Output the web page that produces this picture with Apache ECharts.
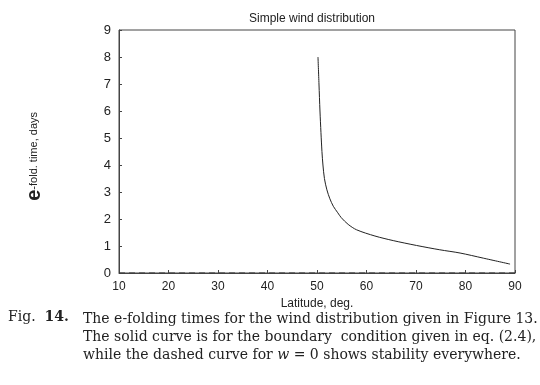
<!DOCTYPE html>
<html>
<head>
<meta charset="utf-8">
<script src="https://cdn.jsdelivr.net/npm/echarts@6/dist/echarts.min.js"></script>
<style>
  html, body { margin: 0; padding: 0; background: #fff; }
  #chart { width: 540px; height: 385px; }
</style>
</head>
<body>
<div id="chart"></div>
<script>
// solid curve: boundary condition eq. (2.4)
const latitude = [50.2, 50.4, 50.6, 50.8, 51.0, 51.2, 51.5, 52.0, 52.6, 53.3, 54.2, 54.9, 56.3, 58.0, 61.7, 65.4, 70.1, 74.8, 78.9, 83.6, 89.0];
const efoldTime = [8.0, 7.0, 6.0, 5.2, 4.5, 4.0, 3.5, 3.08, 2.75, 2.47, 2.23, 2.05, 1.8, 1.6, 1.37, 1.2, 1.02, 0.86, 0.74, 0.55, 0.33];
// dashed curve: w = 0
const latitudeW0 = [10, 90];
const efoldW0 = [0, 0];

const xTicks = [10, 20, 30, 40, 50, 60, 70, 80, 90];
const yTicks = [0, 1, 2, 3, 4, 5, 6, 7, 8, 9];

const dom = document.getElementById('chart');
const myChart = echarts.init(dom, null, { renderer: 'canvas' });

const ink = '#222';
const serif = '"DejaVu Serif", "Liberation Serif", serif';

const option = {
    backgroundColor: '#fff',
    animation: false,
    title: {
        text: 'Simple wind distribution',
        left: 307,
        top: 8,
        textAlign: 'center',
        textStyle: { fontFamily: 'Liberation Sans', fontSize: 12, fontWeight: 'normal', color: ink }
    },
    grid: { left: 119, right: 25, top: 30, bottom: 112, show: true, borderColor: '#444', borderWidth: 1 },
    xAxis: {
        type: 'value',
        min: xTicks[0],
        max: xTicks[xTicks.length - 1],
        interval: 10,
        name: 'Latitude, deg.',
        nameLocation: 'middle',
        nameGap: 23,
        nameTextStyle: { fontFamily: 'Liberation Sans', fontSize: 12, color: ink },
        axisLine: { show: true, lineStyle: { color: '#444' } },
        axisTick: { show: true, inside: true, length: 3, lineStyle: { color: '#444' } },
        axisLabel: { fontFamily: 'Liberation Sans', fontSize: 12, color: ink, margin: 8 },
        splitLine: { show: false }
    },
    yAxis: {
        type: 'value',
        min: yTicks[0],
        max: yTicks[yTicks.length - 1],
        interval: 1,
        axisLine: { show: true, lineStyle: { color: '#444' } },
        axisTick: { show: true, inside: true, length: 3, lineStyle: { color: '#444' } },
        axisLabel: { fontFamily: 'Liberation Sans', fontSize: 13, color: ink, margin: 8 },
        splitLine: { show: false }
    },
    graphic: [
        {
            type: 'text',
            left: 24,
            top: 112,
            rotation: Math.PI / 2,
            originX: 0,
            originY: 0,
            style: {
                text: '{e|e}{t|-fold. time, days}',
                rich: {
                    e: { fontFamily: 'Liberation Sans', fontSize: 20, fontWeight: 'bold', fill: ink },
                    t: { fontFamily: 'Liberation Sans', fontSize: 11, fill: ink }
                }
            }
        },
        {
            type: 'text',
            left: 8,
            top: 310,
            style: {
                text: '{n|Fig.  }{b|14.}',
                rich: {
                    n: { fontFamily: serif, fontSize: 14, fill: ink },
                    b: { fontFamily: serif, fontSize: 14, fontWeight: 'bold', fill: ink }
                }
            }
        },
        {
            type: 'text',
            left: 83,
            top: 310,
            style: {
                text: '{n|The e-folding times for the wind distribution given in Figure 13.}\n' +
                      '{n|The solid curve is for the boundary  condition given in eq. (2.4),}\n' +
                      '{n|while the dashed curve for }{i|w}{n| = 0 shows stability everywhere.}',
                lineHeight: 18,
                rich: {
                    n: { fontFamily: serif, fontSize: 14, fill: ink, lineHeight: 18 },
                    i: { fontFamily: serif, fontSize: 14, fontStyle: 'italic', fill: ink, lineHeight: 18 }
                }
            }
        }
    ],
    series: [
        {
            type: 'line',
            data: latitudeW0.map((x, i) => [x, efoldW0[i]]),
            showSymbol: false,
            lineStyle: { color: '#333', width: 1, type: [6, 4] }
        },
        {
            type: 'line',
            data: latitude.map((x, i) => [x, efoldTime[i]]),
            smooth: 0.3,
            showSymbol: false,
            lineStyle: { color: ink, width: 1 }
        }
    ]
};
myChart.setOption(option);
window.addEventListener('resize', () => myChart.resize());
</script>
</body>
</html>
